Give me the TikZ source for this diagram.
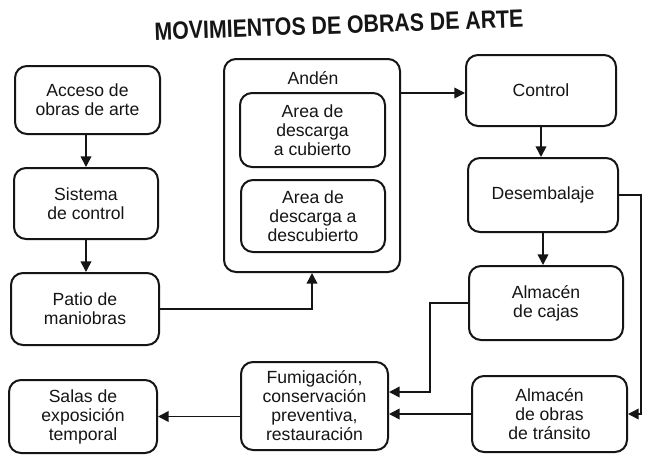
\documentclass[tikz,border=0pt]{standalone}
\usepackage{fontspec}
\setmainfont{Liberation Sans}
\newfontfamily\titlefont[FakeStretch=0.85]{Liberation Sans}
\usetikzlibrary{arrows.meta}
\definecolor{ink}{HTML}{151515}
\tikzset{
  rbox/.style={draw=ink, line width=1.5pt, rounded corners=9pt, align=center,
    text=ink, font=\fontsize{13.2}{14.25}\selectfont, inner sep=0pt},
  arr/.style={draw=ink, line width=1.2pt, -{Triangle[length=8pt,width=8pt]}},
  lbl/.style={text=ink, font=\fontsize{13.2}{14.25}\selectfont, inner sep=0pt}
}
\begin{document}
\begin{tikzpicture}[x=0.75pt,y=-0.75pt]
\useasboundingbox[fill=white] (0,0) rectangle (663,461);
% title
\node[text=ink, font=\titlefont\bfseries\fontsize{18.8}{20}\selectfont, rotate=2, inner sep=0pt] (title) at (339,25) {MOVIMIENTOS DE OBRAS DE ARTE};
% left column
\node[rbox, minimum width=108.75pt, minimum height=51pt] (acc) at (87.5,100) {Acceso de\\obras de arte};
\node[rbox, minimum width=108pt, minimum height=53.25pt] (sis) at (86,203.5) {Sistema\\de control};
\node[rbox, minimum width=111pt, minimum height=54pt] (pat) at (85,309) {Patio de\\maniobras};
% anden
\node[rbox, minimum width=132pt, minimum height=159.75pt] (and) at (312,165.5) {};
\node[lbl] (andl) at (313,78) {Andén};
\node[rbox, minimum width=108.75pt, minimum height=55.5pt] (in1) at (312.5,130) {Area de\\descarga\\a cubierto};
\node[rbox, minimum width=108pt, minimum height=54pt] (in2) at (313,216) {Area de\\descarga a\\descubierto};
% right column
\node[rbox, minimum width=112.5pt, minimum height=53.25pt] (con) at (541,90.5) {Control};
\node[rbox, minimum width=112.5pt, minimum height=55.5pt] (des) at (543,195) {Desembalaje};
\node[rbox, minimum width=115.5pt, minimum height=55.5pt] (caj) at (546,303) {Almacén\\de cajas};
\node[rbox, minimum width=116.25pt, minimum height=57pt] (tra) at (549.5,414) {Almacén\\de obras\\de tránsito};
% bottom
\node[rbox, minimum width=110.25pt, minimum height=66pt] (fum) at (314.5,406) {Fumigación,\\conservación\\preventiva,\\restauración};
\node[rbox, minimum width=111pt, minimum height=54.75pt] (sal) at (83,416.5) {Salas de\\exposición\\temporal};
% connectors
\draw[arr] (acc.south -| sis.north) -- (sis.north);
\draw[arr] (sis.south) -- (sis.south |- pat.north);
\draw[arr] (pat.east) -| (and.south);
\draw[arr] ([yshift=-1.875pt]con.west -| and.east) -- ([yshift=-1.875pt]con.west);
\draw[arr] (con.south) -- (con.south |- des.north);
\draw[arr] (des.south) -- (des.south |- caj.north);
\draw[arr] (des.east) -- ++(22,0) |- (tra.east);
\draw[arr] (caj.west) -- ++(-38,0) |- ([yshift=10.5pt]fum.east);
\draw[arr] (tra.west) -- (tra.west -| fum.east);
\draw[arr] (sal.east -| fum.west) -- (sal.east);
\end{tikzpicture}
\end{document}
